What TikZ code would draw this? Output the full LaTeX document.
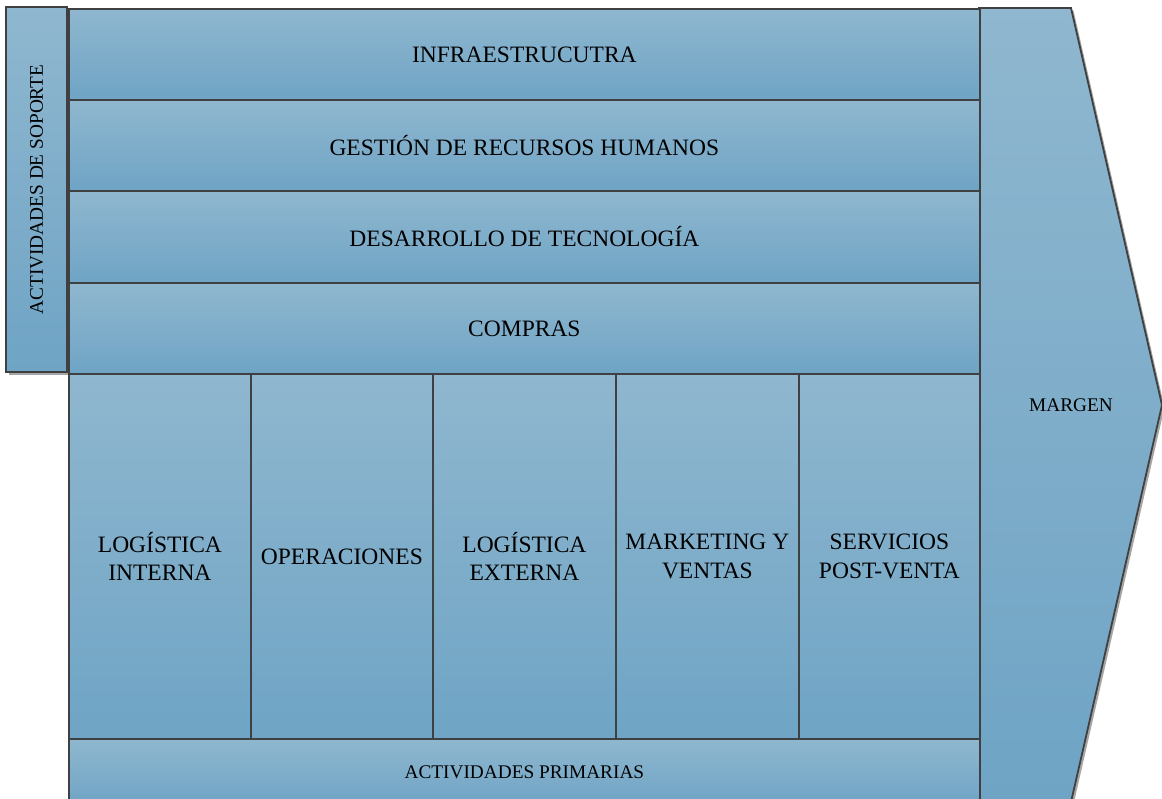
\documentclass[tikz,border=0pt]{standalone}
\usepackage{fontspec}
\setmainfont{Liberation Serif}
\usetikzlibrary{shadows}
\definecolor{vlight}{RGB}{143,183,207}
\definecolor{vdark}{RGB}{111,164,197}
\definecolor{vline}{RGB}{62,64,66}
\tikzset{
  x=1pt, y=-1pt,
  cell/.style={draw=vline, line width=1.8pt, top color=vlight, bottom color=vdark,
    rectangle, inner sep=0pt, anchor=north west, align=center,
    font=\fontsize{23.5}{28.5}\selectfont},
  small/.style={font=\fontsize{19.3}{22}\selectfont},
  shade/.style={drop shadow={shadow xshift=2.5pt, shadow yshift=-2.5pt, opacity=0.35, fill=black}}
}
\begin{document}
\begin{tikzpicture}
\useasboundingbox (0,0) rectangle (1162,798);
\clip (0,0) rectangle (1162,798);
% margin chevron
\path[draw=vline, line width=1.8pt, top color=vlight, bottom color=vdark, shade]
  (979,8) -- (1071,8) -- (1162,405) -- (1071,802) -- (979,802) -- cycle;
\node[small] (margen) at (1071,405) {MARGEN};
% support box
\node[cell, small, minimum width=365pt, minimum height=61pt, rotate=90,
  anchor=south west, top color=vlight, bottom color=vdark, shade] (soporte) at (68,373)
  {ACTIVIDADES DE SOPORTE};
% support rows
\node[cell, minimum width=911pt, minimum height=91pt] (infra) at (68,8) {INFRAESTRUCUTRA};
\node[cell, minimum width=911pt, minimum height=91pt] (rrhh) at (68,99) {GESTIÓN DE RECURSOS HUMANOS};
\node[cell, minimum width=911pt, minimum height=92pt] (tec) at (68,190) {DESARROLLO DE TECNOLOGÍA};
\node[cell, minimum width=911pt, minimum height=91pt] (compras) at (68,282) {COMPRAS};
% primary columns
\node[cell, minimum width=182pt, minimum height=365pt] (li) at (68,373) {LOGÍSTICA\\INTERNA};
\node[cell, minimum width=182pt, minimum height=365pt] (op) at (250,373) {OPERACIONES};
\node[cell, minimum width=183pt, minimum height=365pt] (le) at (432,373) {LOGÍSTICA\\EXTERNA};
\node[cell, minimum width=183pt, minimum height=365pt] (mv) at (615,373) {MARKETING Y\\VENTAS};
\node[cell, minimum width=181pt, minimum height=365pt] (sp) at (798,373) {SERVICIOS\\POST-VENTA};
% bottom bar
\node[cell, small, minimum width=911pt, minimum height=66pt] (prim) at (68,738) {ACTIVIDADES PRIMARIAS};
\end{tikzpicture}
\end{document}
